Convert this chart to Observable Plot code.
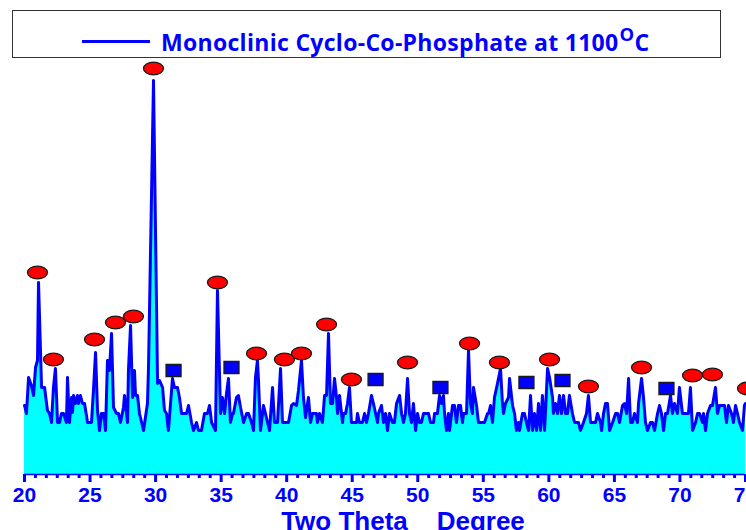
<!DOCTYPE html>
<html>
<head>
<meta charset="utf-8">
<script src="https://cdn.jsdelivr.net/npm/d3@7"></script>
<script src="https://cdn.jsdelivr.net/npm/@observablehq/plot@0.6"></script>
<style>
  body { margin: 0; background: #fff; }
  #legend { position: relative; width: 746px; height: 60px; }
  #legend .box { position: absolute; left: 12px; top: 10px; width: 709px; height: 48px; box-sizing: border-box; border: 1.5px solid #333; }
  #legend .swatch { position: absolute; left: 82px; top: 40px; width: 68px; height: 3px; background: #0000FF; }
  #legend .label { position: absolute; left: 161px; top: 29px; font: bold 23px "Open Sans", Lato, sans-serif; line-height: 26px; color: #0000FF; white-space: nowrap; letter-spacing: 0.3px; }
  #legend .label sup { font-size: 0.8em; position: relative; vertical-align: baseline; top: -0.55em; margin-left: 1px; }
  #chart svg { display: block; }
</style>
</head>
<body>
<div id="legend">
  <div class="box"></div>
  <div class="swatch"></div>
  <div class="label">Monoclinic Cyclo-Co-Phosphate at 1100<sup>O</sup>C</div>
</div>
<div id="chart"></div>
<script>
// 2θ (degree) of the measured trace
const theta = [
20.00,20.15,20.31,20.53,20.69,20.84,20.99,21.07,21.30,21.53,21.75,21.91,22.06,22.21,22.36,22.52,22.67,22.82,22.98,23.20,
23.28,23.43,23.59,23.66,23.74,23.89,24.04,24.12,24.27,24.42,24.58,24.81,25.11,25.26,25.42,25.57,25.72,25.87,26.03,26.18,
26.33,26.41,26.48,26.64,26.79,27.02,27.17,27.32,27.55,27.63,27.86,27.93,28.09,28.24,28.39,28.47,28.62,28.77,29.08,29.38,
29.46,29.84,30.15,30.30,30.53,30.68,30.83,30.98,31.29,31.44,31.67,31.82,31.98,32.36,32.51,32.74,32.89,33.12,33.27,33.50,
33.73,33.96,34.11,34.27,34.57,34.72,34.95,35.10,35.26,35.41,35.56,35.71,35.87,35.94,36.17,36.32,36.48,36.71,36.94,37.09,
37.32,37.47,37.62,37.77,37.85,38.00,38.23,38.38,38.54,38.69,38.92,39.07,39.30,39.53,39.68,39.99,40.14,40.37,40.52,40.75,
40.90,41.13,41.28,41.44,41.66,41.82,41.97,42.12,42.27,42.35,42.50,42.73,42.89,43.04,43.19,43.34,43.50,43.65,43.80,43.88,
44.03,44.26,44.33,44.49,44.64,44.79,44.94,45.10,45.33,45.40,45.55,45.78,45.94,46.09,46.24,46.47,46.62,46.78,46.93,47.00,
47.23,47.39,47.54,47.69,47.84,48.07,48.22,48.38,48.61,48.76,48.91,49.06,49.22,49.37,49.52,49.67,49.83,49.98,50.13,50.28,
50.44,50.67,50.82,50.97,51.20,51.28,51.50,51.66,51.81,51.96,52.04,52.19,52.34,52.42,52.65,52.80,52.95,53.11,53.26,53.41,
53.49,53.72,53.87,54.02,54.17,54.25,54.48,54.63,54.86,55.09,55.32,55.40,55.55,55.70,55.85,56.08,56.31,56.46,56.54,56.69,
56.92,57.00,57.23,57.38,57.53,57.68,57.76,57.99,58.14,58.29,58.45,58.60,58.75,58.90,59.06,59.21,59.36,59.51,59.67,59.90,
60.05,60.28,60.35,60.51,60.66,60.81,60.96,61.12,61.27,61.42,61.57,61.80,61.96,62.26,62.41,62.64,62.87,63.02,63.18,63.33,
63.56,63.71,63.94,64.02,64.17,64.32,64.47,64.63,64.86,65.09,65.24,65.39,65.62,65.77,65.93,66.08,66.23,66.38,66.53,66.76,
66.84,67.07,67.22,67.37,67.53,67.75,67.91,68.06,68.29,68.44,68.59,68.75,68.90,69.05,69.28,69.43,69.58,69.81,69.96,70.19,
70.35,70.50,70.65,70.80,70.96,71.19,71.34,71.49,71.72,71.80,71.95,72.10,72.33,72.48,72.71,72.86,73.02,73.25,73.40,73.55,
73.70,73.93,74.08,74.24,74.39,74.54,74.77,74.92,75.00
];
// intensity (arbitrary units)
const intensity = [
69,61,97,89,79,107,114,192,87,87,64,61,52,87,106,52,52,61,61,52,
97,52,77,62,79,71,79,71,79,71,71,52,52,84,122,64,44,61,61,44,
114,114,104,141,67,61,61,52,67,79,52,104,149,77,104,79,79,61,44,71,
107,394,91,94,87,64,61,44,96,87,87,77,61,61,69,52,44,52,44,44,
61,61,69,52,44,184,61,77,61,81,96,52,61,61,77,79,67,52,61,61,
52,44,97,114,94,44,69,61,52,44,87,52,52,106,52,52,52,69,71,69,
84,114,77,57,77,52,61,61,61,52,61,52,79,79,141,71,71,96,77,61,
79,52,61,61,71,87,52,52,52,61,52,52,61,52,61,79,71,61,52,61,
69,52,61,44,61,52,52,71,79,61,52,61,96,61,52,71,44,61,52,52,
61,61,61,52,52,61,61,79,71,79,61,44,61,44,69,69,52,69,69,52,
61,61,124,71,61,87,69,52,52,52,61,61,69,52,77,91,106,71,61,71,
77,96,69,61,44,52,44,61,61,52,44,79,44,61,44,71,44,79,44,106,
97,77,61,71,61,79,61,79,61,61,79,61,52,52,44,52,61,79,52,52,
52,61,52,44,61,71,71,44,52,61,61,52,69,71,61,96,52,52,61,52,
71,96,77,52,44,52,52,44,61,69,61,44,61,61,79,61,71,61,87,61,
61,61,61,87,44,52,61,61,52,61,44,61,69,69,87,61,69,69,69,52,
69,61,52,69,61,52,44,69,71
];
// phase markers: red ellipses (peaks) and blue squares
const ovalTheta = [20.99,22.21,25.34,26.94,28.31,29.84,34.72,37.70,39.83,41.13,43.04,44.94,49.22,53.95,56.23,60.05,63.02,67.07,70.96,72.48,75.15];
const ovalI     = [202,115,135,152,158,406,192,121,115,121,150,95,112,131,112,115,88,107,99,100,86];
const squareTheta = [31.37,35.79,46.78,51.73,58.29,61.04,68.97];
const squareI     = [104,107,95,87,92,94,86];
const majorTicks = [20,25,30,35,40,45,50,55,60,65,70,75];
const xTitle = "Two Theta\u00a0\u00a0\u00a0\u00a0Degree";

const trace = theta.map((t, i) => ({t, v: intensity[i]}));
const ovals = ovalTheta.map((t, i) => ({t, v: ovalI[i]}));
const squares = squareTheta.map((t, i) => ({t, v: squareI[i]}));
const minorTicks = d3.range(0, 67).filter(i => i % 6 !== 0).map(i => 20 + i * 5 / 6);

const ellipseSymbol = {
  draw(ctx) {
    const rx = 10, ry = 6.3, k = 0.5523;
    ctx.moveTo(rx, 0);
    ctx.bezierCurveTo(rx, ry * k, rx * k, ry, 0, ry);
    ctx.bezierCurveTo(-rx * k, ry, -rx, ry * k, -rx, 0);
    ctx.bezierCurveTo(-rx, -ry * k, -rx * k, -ry, 0, -ry);
    ctx.bezierCurveTo(rx * k, -ry, rx, -ry * k, rx, 0);
    ctx.closePath();
  }
};
const squareSymbol = {
  draw(ctx) {
    const hx = 7.5, hy = 6;
    ctx.moveTo(-hx, -hy); ctx.lineTo(hx, -hy); ctx.lineTo(hx, hy); ctx.lineTo(-hx, hy); ctx.closePath();
  }
};

const chart = Plot.plot({
  width: 746,
  height: 470,
  marginLeft: 24,
  marginRight: 1,
  marginTop: 0,
  marginBottom: 56,
  style: {background: "transparent", overflow: "hidden"},
  x: {domain: [20, 75], axis: null},
  y: {domain: [0, 414], axis: null},
  marks: [
    Plot.areaY(trace, {x: "t", y: "v", fill: "#00FFFF"}),
    Plot.lineY(trace, {x: "t", y: "v", stroke: "#0000FF", strokeWidth: 3, strokeLinejoin: "round"}),
    Plot.ruleY([0], {stroke: "#0000FF", strokeWidth: 1.5}),
    Plot.axisX(minorTicks, {tickSize: 4, stroke: "#0000FF", strokeWidth: 3, tickFormat: () => "", label: null}),
    Plot.axisX(majorTicks, {tickSize: 8, tickPadding: 5, stroke: "#0000FF", strokeWidth: 3, fill: "#0000FF",
      fontSize: 21, fontWeight: "bold", fontFamily: "Liberation Sans, Arial, sans-serif", label: null}),
    Plot.text([xTitle], {frameAnchor: "bottom", dx: 18, dy: 47, lineAnchor: "middle", fill: "#0000FF",
      fontSize: 26, fontWeight: "bold", fontFamily: "Liberation Sans, Arial, sans-serif"}),
    Plot.dot(ovals, {x: "t", y: "v", symbol: ellipseSymbol, fill: "#FF0000", stroke: "#1a1a1a", strokeWidth: 1.3}),
    Plot.dot(squares, {x: "t", y: "v", symbol: squareSymbol, fill: "#0000FF", stroke: "#1a1a1a", strokeWidth: 1.3})
  ]
});
document.getElementById("chart").appendChild(chart);
</script>
</body>
</html>
